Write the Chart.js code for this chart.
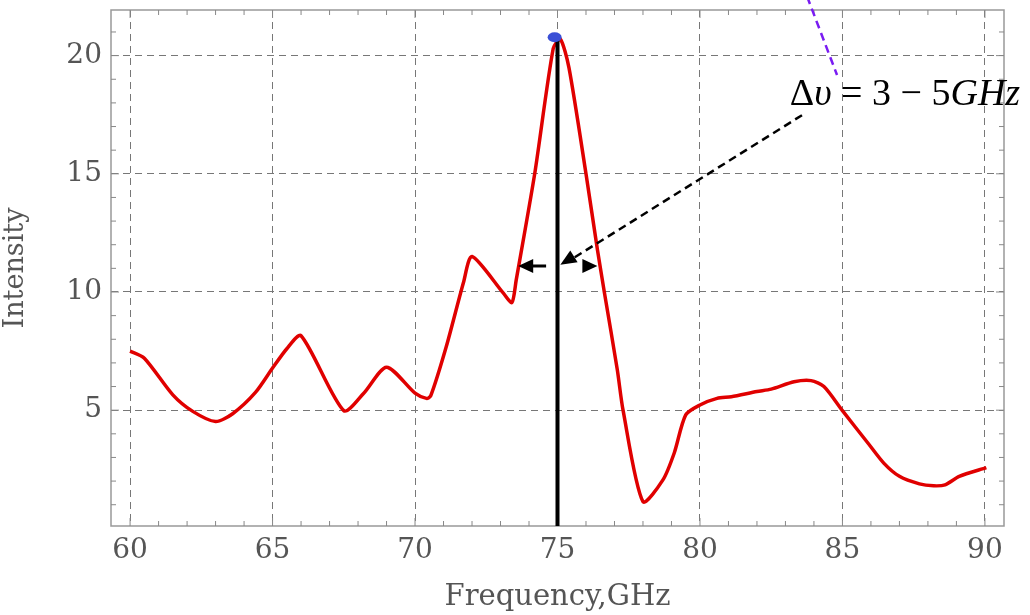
<!DOCTYPE html>
<html>
<head>
<meta charset="utf-8">
<script src="https://cdn.jsdelivr.net/npm/chart.js@4/dist/chart.umd.min.js"></script>
<style>
  body { margin: 0; background: #fff; }
  canvas { display: block; }
</style>
</head>
<body>
<canvas id="chart" width="1030" height="615"></canvas>
<script>
// spectrum
const freq = [60.0, 60.5, 61.5, 62.2, 63.0, 63.6, 64.4, 65.0, 65.5, 66.0,
  67.5, 68.2, 69.0, 70.0, 70.4, 70.55, 71.1, 71.7, 72.0, 73.1, 73.4,
  73.55, 74.2, 74.85, 75.1, 75.4, 76.0, 76.4, 76.65, 77.1, 77.3,
  78.0, 78.7, 79.1, 79.5, 80.0, 80.6, 81.1, 82.0, 82.5, 83.3,
  83.9, 84.35, 85.0, 85.9, 86.45, 87.0, 87.7, 88.2, 88.6, 89.1, 90.05];
const intensity = [7.5, 7.2, 5.65, 4.95, 4.52, 4.85, 5.75, 6.78, 7.6, 8.15,
  4.98, 5.72, 6.82, 5.72, 5.5, 5.6, 7.7, 10.4, 11.5, 9.95, 9.55,
  10.5, 15.0, 20.3, 20.7, 19.5, 15.0, 11.8, 9.95, 6.7, 5.0,
  1.13, 2.05, 3.2, 4.8, 5.22, 5.5, 5.57, 5.79, 5.89, 6.2,
  6.25, 6.0, 4.98, 3.6, 2.76, 2.2, 1.88, 1.8, 1.84, 2.2, 2.57];
const xTicks = [60, 65, 70, 75, 80, 85, 90];
const yTicks = [5, 10, 15, 20];

// annotation anchors (data units)
const peakFreq = 75;
const peakTop = 20.72;
const markerLevel = 11.1;
const leftArrow = [74.6, 73.62];
const rightArrow = [75.75, 76.4];
const leader = [[83.58, 17.48], [75.1, 11.15]];
const violet = [[83.76, 22.5], [84.81, 19.18]];
const labelAt = [83.15, 17.9];

const tickFont = { family: 'DejaVu Serif', size: 28 };
const grey = '#555';

function arrowHead(ctx, x1, y1, x2, y2, len, half) {
  const a = Math.atan2(y2 - y1, x2 - x1);
  ctx.beginPath();
  ctx.moveTo(x2, y2);
  ctx.lineTo(x2 - len * Math.cos(a) + half * Math.sin(a), y2 - len * Math.sin(a) - half * Math.cos(a));
  ctx.lineTo(x2 - len * Math.cos(a) - half * Math.sin(a), y2 - len * Math.sin(a) + half * Math.cos(a));
  ctx.closePath();
  ctx.fill();
}

const framePlugin = {
  id: 'frame',
  afterDraw(chart) {
    const { ctx, chartArea: a, scales } = chart;
    const xs = scales.x, ys = scales.y;
    ctx.save();
    ctx.strokeStyle = '#999';
    ctx.lineWidth = 1.5;
    ctx.strokeRect(a.left, a.top, a.right - a.left, a.bottom - a.top);
    // inward ticks, every unit, longer at labelled ones
    ctx.lineWidth = 1;
    ctx.strokeStyle = '#888';
    for (let f = 60; f <= 90; f++) {
      const px = xs.getPixelForValue(f);
      const len = f % 5 === 0 ? 8 : 5;
      ctx.beginPath();
      ctx.moveTo(px, a.bottom); ctx.lineTo(px, a.bottom - len);
      ctx.moveTo(px, a.top); ctx.lineTo(px, a.top + len);
      ctx.stroke();
    }
    for (let v = 1; v <= 21; v++) {
      const py = ys.getPixelForValue(v);
      const len = v % 5 === 0 ? 8 : 5;
      ctx.beginPath();
      ctx.moveTo(a.left, py); ctx.lineTo(a.left + len, py);
      ctx.moveTo(a.right, py); ctx.lineTo(a.right - len, py);
      ctx.stroke();
    }
    ctx.restore();

    // annotations
    const X = v => xs.getPixelForValue(v);
    const Y = v => ys.getPixelForValue(v);
    ctx.save();
    ctx.strokeStyle = '#000';
    ctx.fillStyle = '#000';
    ctx.lineWidth = 4;
    ctx.beginPath();
    ctx.moveTo(X(peakFreq), a.bottom);
    ctx.lineTo(X(peakFreq), Y(peakTop));
    ctx.stroke();

    ctx.fillStyle = '#3a4fd6';
    ctx.beginPath();
    ctx.ellipse(X(74.9), Y(20.78), 7, 5, 0, 0, Math.PI * 2);
    ctx.fill();

    ctx.fillStyle = '#000';
    ctx.lineWidth = 3;
    const yl = Y(markerLevel);
    ctx.beginPath();
    ctx.moveTo(X(leftArrow[0]), yl); ctx.lineTo(X(leftArrow[1]) + 10, yl);
    ctx.stroke();
    arrowHead(ctx, X(leftArrow[0]), yl, X(leftArrow[1]), yl, 15, 7);
    arrowHead(ctx, X(rightArrow[0]), yl, X(rightArrow[1]), yl, 15, 7);

    ctx.lineWidth = 2.5;
    ctx.setLineDash([8, 5]);
    ctx.beginPath();
    ctx.moveTo(X(leader[0][0]), Y(leader[0][1]));
    ctx.lineTo(X(leader[1][0]) + 12, Y(leader[1][1]) - 6);
    ctx.stroke();
    ctx.setLineDash([]);
    arrowHead(ctx, X(leader[0][0]), Y(leader[0][1]), X(leader[1][0]), Y(leader[1][1]), 16, 7);

    ctx.strokeStyle = '#7a1cf2';
    ctx.lineWidth = 2.5;
    ctx.setLineDash([8, 5]);
    ctx.beginPath();
    ctx.moveTo(X(violet[0][0]), Y(violet[0][1]));
    ctx.lineTo(X(violet[1][0]), Y(violet[1][1]));
    ctx.stroke();
    ctx.setLineDash([]);

    // Δυ = 3 − 5GHz
    const parts = [['Δ', ''], ['υ', 'italic '], [' = 3 − 5', ''], ['GHz', 'italic ']];
    let tx = X(labelAt[0]);
    const ty = Y(labelAt[1]);
    ctx.fillStyle = '#000';
    ctx.textBaseline = 'alphabetic';
    parts.forEach(([s, style]) => {
      ctx.font = style + '38px "Liberation Serif"';
      ctx.fillText(s, tx, ty);
      tx += ctx.measureText(s).width;
    });
    ctx.restore();
  }
};

const keepTicks = list => scale => {
  scale.ticks = list.map(v => ({ value: v }));
};

new Chart(document.getElementById('chart'), {
  type: 'line',
  data: {
    datasets: [{
      data: freq.map((f, i) => ({ x: f, y: intensity[i] })),
      borderColor: '#e00000',
      borderWidth: 3.5,
      pointRadius: 0,
      tension: 0.25,
      fill: false
    }]
  },
  options: {
    responsive: false,
    animation: false,
    layout: { padding: { top: 10, right: 26, left: 0, bottom: 0 } },
    plugins: { legend: { display: false }, tooltip: { enabled: false } },
    scales: {
      x: {
        type: 'linear',
        min: 59.33,
        max: 90.67,
        afterBuildTicks: keepTicks(xTicks),
        afterFit: s => { s.height = 89; s.paddingLeft = 0; s.paddingRight = 0; },
        grid: { color: '#777', lineWidth: 1, drawTicks: false },
        border: { display: false, dash: [7, 5] },
        ticks: { font: tickFont, color: grey, padding: 8, maxRotation: 0 },
        title: { display: true, text: 'Frequency,GHz', color: grey,
          font: { family: 'DejaVu Serif', size: 29 }, padding: { top: 6, bottom: 0 } }
      },
      y: {
        min: 0.1,
        max: 21.93,
        afterBuildTicks: keepTicks(yTicks),
        afterFit: s => { s.width = 111; s.paddingTop = 0; s.paddingBottom = 0; },
        grid: { color: '#777', lineWidth: 1, drawTicks: false },
        border: { display: false, dash: [7, 5] },
        ticks: { font: tickFont, color: grey, padding: 9 },
        title: { display: true, text: 'Intensity', color: grey,
          font: { family: 'DejaVu Serif', size: 27 }, padding: { top: 0, bottom: 0 } }
      }
    }
  },
  plugins: [framePlugin]
});
</script>
</body>
</html>
